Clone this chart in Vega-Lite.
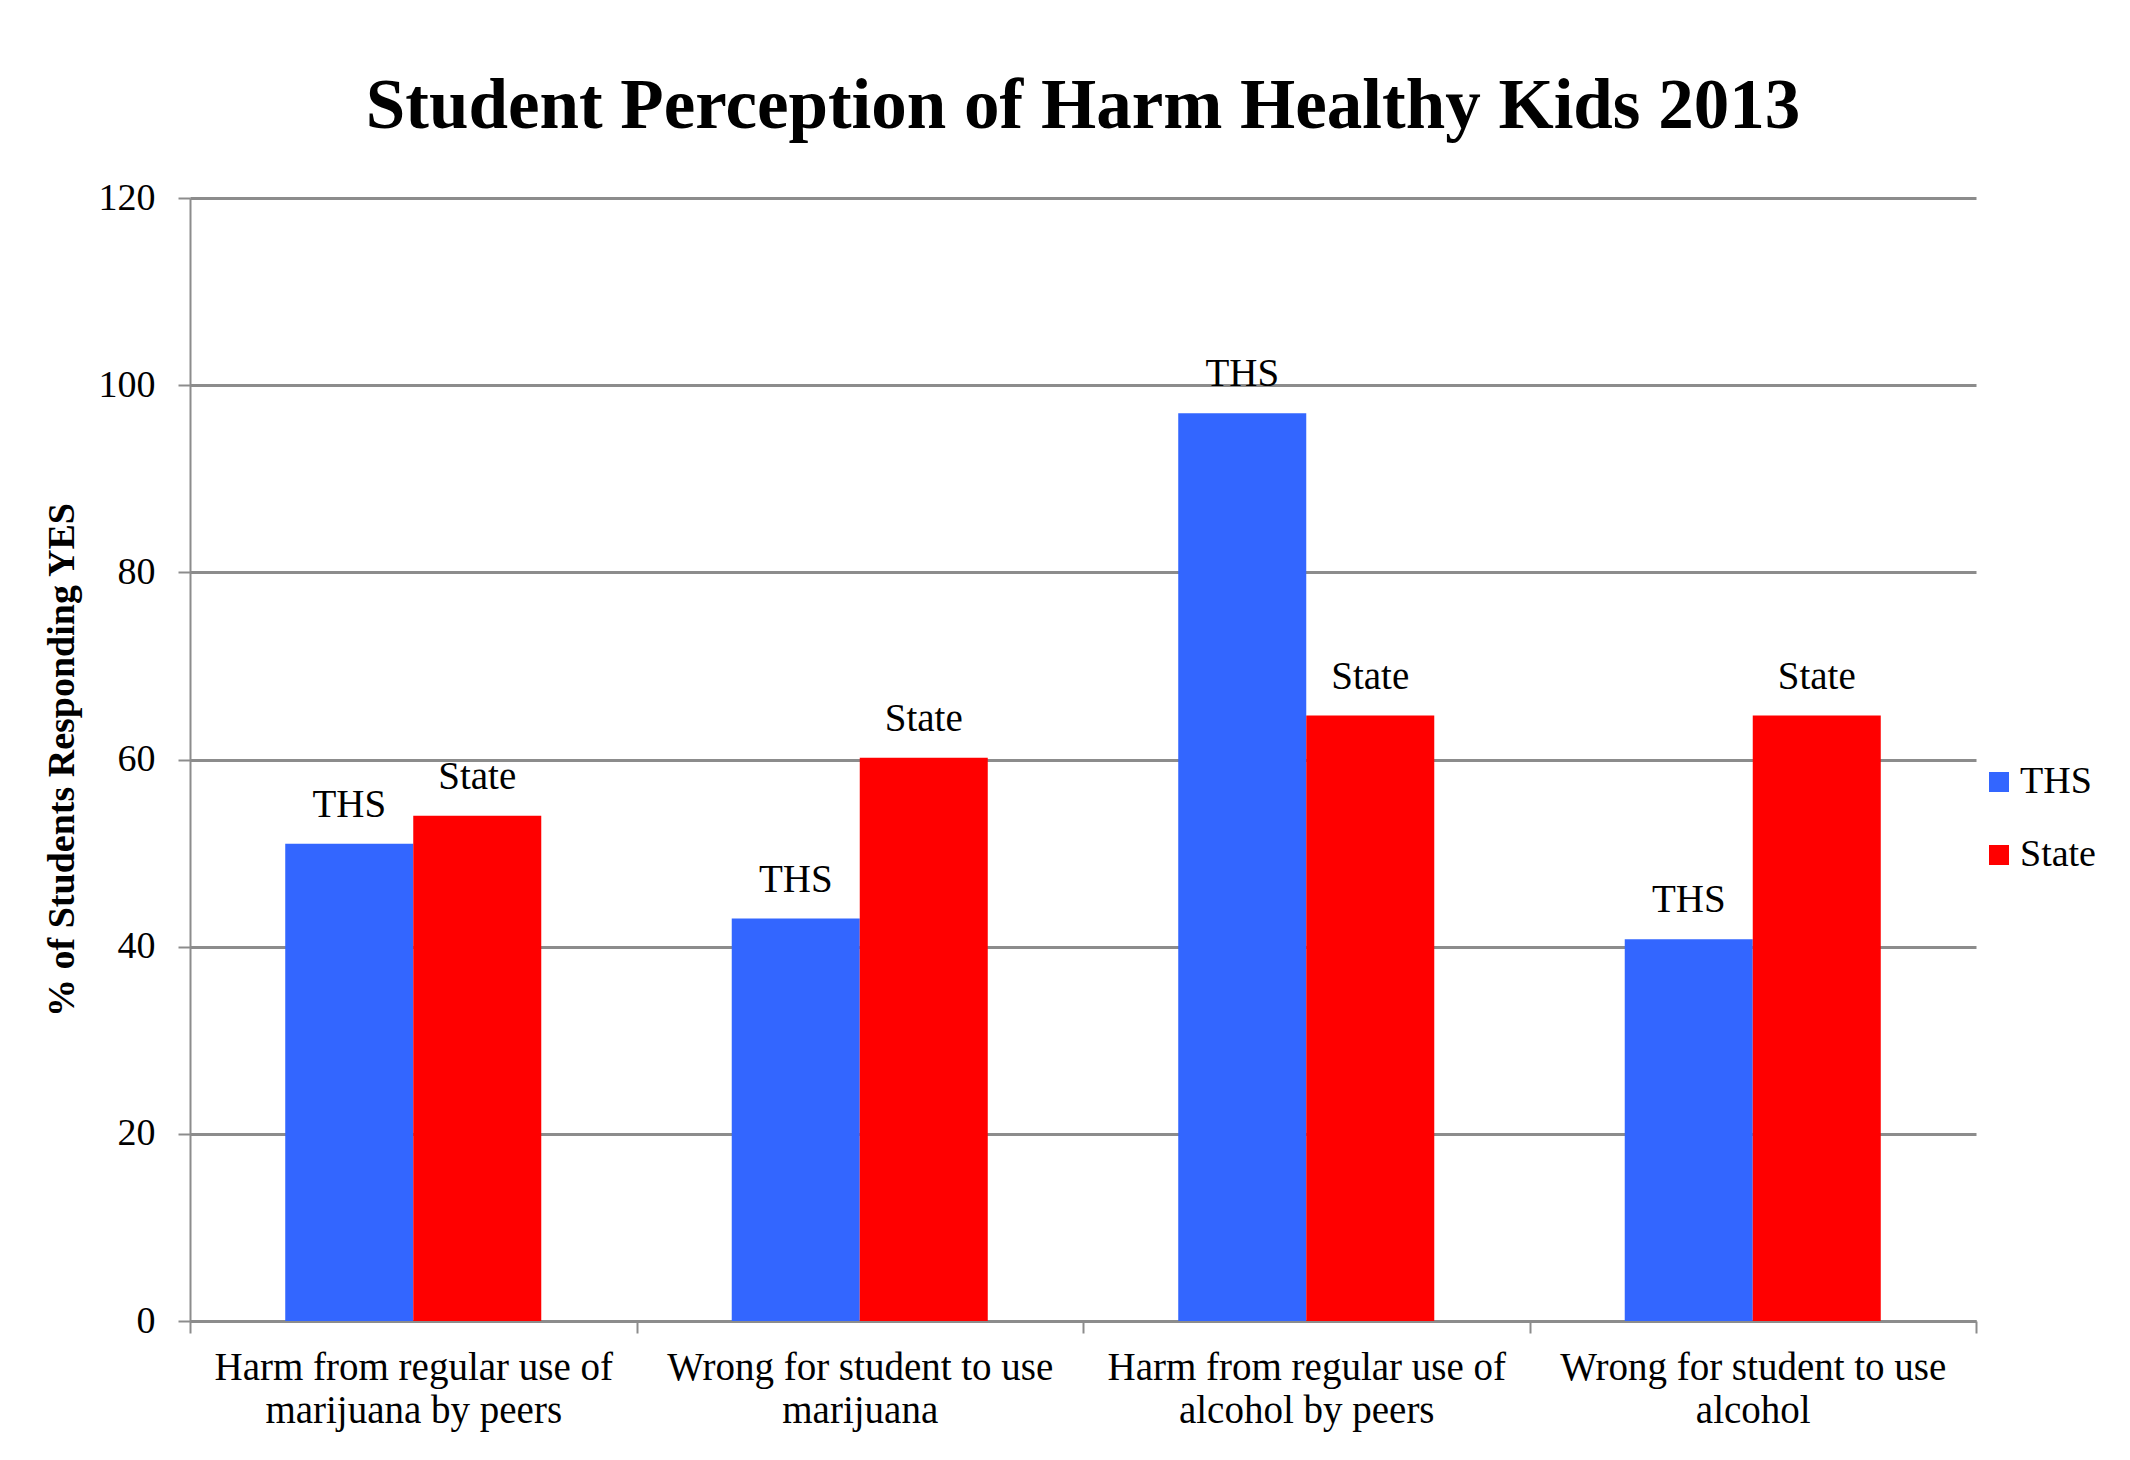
{
  "$schema": "https://vega.github.io/schema/vega-lite/v6.json",
  "width": 1786,
  "height": 1123,
  "autosize": {"type": "none"},
  "padding": {"left": 190, "top": 198, "right": 154, "bottom": 139},
  "background": "white",
  "config": {"font": "Liberation Serif", "view": {"stroke": null}},
  "title": {
    "text": "Student Perception of Harm Healthy Kids 2013",
    "font": "Liberation Serif",
    "fontSize": 71,
    "fontWeight": "bold",
    "color": "black",
    "anchor": "middle",
    "offset": 36
  },
  "data": {
    "values": [
      {"question": "Harm from regular use of|marijuana by peers", "group": "THS", "value": 51},
      {"question": "Harm from regular use of|marijuana by peers", "group": "State", "value": 54},
      {"question": "Wrong for student to use|marijuana", "group": "THS", "value": 43},
      {"question": "Wrong for student to use|marijuana", "group": "State", "value": 60.2},
      {"question": "Harm from regular use of|alcohol by peers", "group": "THS", "value": 97},
      {"question": "Harm from regular use of|alcohol by peers", "group": "State", "value": 64.7},
      {"question": "Wrong for student to use|alcohol", "group": "THS", "value": 40.8},
      {"question": "Wrong for student to use|alcohol", "group": "State", "value": 64.7}
    ]
  },
  "encoding": {
    "x": {
      "field": "question",
      "type": "nominal",
      "sort": null,
      "scale": {"paddingInner": 0, "paddingOuter": 0},
      "axis": {
        "title": null,
        "labelAngle": 0,
        "labelExpr": "split(datum.label, '|')",
        "labelLimit": 1000,
        "labelFontSize": 39,
        "labelColor": "black",
        "labelPadding": 15,
        "labelLineHeight": 43,
        "tickBand": "extent",
        "tickSize": 12,
        "tickColor": "#8c8c8c",
        "tickWidth": 2,
        "domainColor": "#8c8c8c",
        "domainWidth": 3,
        "grid": false
      }
    },
    "xOffset": {
      "field": "group",
      "type": "nominal",
      "sort": ["THS", "State"],
      "scale": {"paddingInner": 0, "paddingOuter": 0.744}
    },
    "y": {
      "field": "value",
      "type": "quantitative",
      "scale": {"domain": [0, 120]},
      "axis": {
        "values": [0, 20, 40, 60, 80, 100, 120],
        "title": "% of Students Responding YES",
        "titleFont": "Liberation Serif",
        "titleFontSize": 38,
        "titleFontWeight": "bold",
        "titleColor": "black",
        "titlePadding": 17,
        "labelFontSize": 38,
        "labelColor": "black",
        "labelPadding": 23,
        "tickSize": 12,
        "tickColor": "#8c8c8c",
        "tickWidth": 2,
        "domainColor": "#8c8c8c",
        "domainWidth": 2,
        "gridColor": "#8c8c8c",
        "gridWidth": 3,
        "gridOpacity": 1
      }
    }
  },
  "layer": [
    {
      "mark": {"type": "bar"},
      "encoding": {
        "color": {
          "field": "group",
          "type": "nominal",
          "sort": ["THS", "State"],
          "scale": {"domain": ["THS", "State"], "range": ["#3366ff", "#ff0000"]},
          "legend": {
            "orient": "none",
            "legendX": 1790,
            "legendY": 565,
            "padding": 0,
            "title": null,
            "symbolType": "square",
            "symbolSize": 400,
            "symbolStrokeWidth": 0,
            "labelFontSize": 38,
            "labelColor": "black",
            "labelOffset": 2,
            "rowPadding": 35
          }
        }
      }
    },
    {
      "mark": {"type": "text", "baseline": "alphabetic", "dy": -27, "fontSize": 39, "color": "black"},
      "encoding": {"text": {"field": "group", "type": "nominal"}}
    }
  ]
}
